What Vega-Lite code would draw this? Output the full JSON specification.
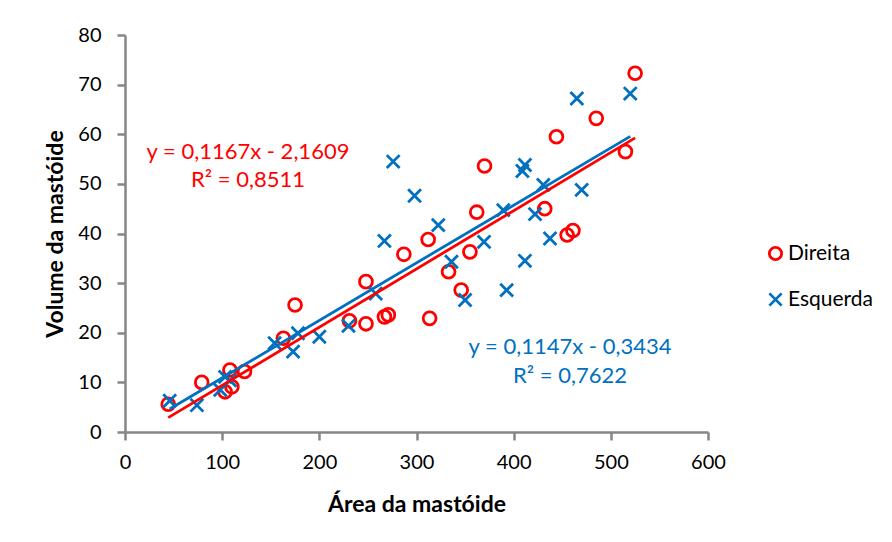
{
  "$schema": "https://vega.github.io/schema/vega-lite/v6.json",
  "autosize": "none",
  "width": 583,
  "height": 397,
  "padding": {"left": 125, "top": 35, "right": 184, "bottom": 110},
  "background": "white",
  "config": {
    "view": {"stroke": null},
    "font": "Lato",
    "axis": {
      "domainColor": "#868686",
      "domainWidth": 2.5,
      "tickColor": "#868686",
      "tickWidth": 2.5,
      "tickSize": 8,
      "grid": false,
      "labelFlush": false,
      "labelColor": "black",
      "labelFontSize": 20,
      "labelFont": "Lato",
      "titleFont": "Lato",
      "titleFontSize": 23,
      "titleFontWeight": "bold",
      "titleColor": "black"
    }
  },
  "datasets": {
    "pts": [
      {"lado": "Direita", "area": 44.5, "volume": 5.6},
      {"lado": "Direita", "area": 79, "volume": 10},
      {"lado": "Direita", "area": 103, "volume": 8.1},
      {"lado": "Direita", "area": 108, "volume": 12.5},
      {"lado": "Direita", "area": 110, "volume": 9.1},
      {"lado": "Direita", "area": 123, "volume": 12.2},
      {"lado": "Direita", "area": 163, "volume": 18.9},
      {"lado": "Direita", "area": 175, "volume": 25.6},
      {"lado": "Direita", "area": 231, "volume": 22.4},
      {"lado": "Direita", "area": 248, "volume": 30.3},
      {"lado": "Direita", "area": 248, "volume": 21.8},
      {"lado": "Direita", "area": 267, "volume": 23.2},
      {"lado": "Direita", "area": 271, "volume": 23.6},
      {"lado": "Direita", "area": 287, "volume": 35.8},
      {"lado": "Direita", "area": 312, "volume": 38.8},
      {"lado": "Direita", "area": 313.5, "volume": 22.9},
      {"lado": "Direita", "area": 333, "volume": 32.3},
      {"lado": "Direita", "area": 346, "volume": 28.6},
      {"lado": "Direita", "area": 355, "volume": 36.3},
      {"lado": "Direita", "area": 362, "volume": 44.3},
      {"lado": "Direita", "area": 370, "volume": 53.6},
      {"lado": "Direita", "area": 432, "volume": 45},
      {"lado": "Direita", "area": 444, "volume": 59.5},
      {"lado": "Direita", "area": 455, "volume": 39.7},
      {"lado": "Direita", "area": 461, "volume": 40.6},
      {"lado": "Direita", "area": 485, "volume": 63.2},
      {"lado": "Direita", "area": 515, "volume": 56.5},
      {"lado": "Direita", "area": 525, "volume": 72.3},
      {"lado": "Esquerda", "area": 46, "volume": 6.3},
      {"lado": "Esquerda", "area": 74, "volume": 5.4},
      {"lado": "Esquerda", "area": 98, "volume": 8.5},
      {"lado": "Esquerda", "area": 103, "volume": 11.1},
      {"lado": "Esquerda", "area": 108, "volume": 10.4},
      {"lado": "Esquerda", "area": 154, "volume": 17.9},
      {"lado": "Esquerda", "area": 173, "volume": 16.2},
      {"lado": "Esquerda", "area": 178, "volume": 19.9},
      {"lado": "Esquerda", "area": 200, "volume": 19.2},
      {"lado": "Esquerda", "area": 230, "volume": 21.4},
      {"lado": "Esquerda", "area": 258, "volume": 27.9},
      {"lado": "Esquerda", "area": 267, "volume": 38.5},
      {"lado": "Esquerda", "area": 276, "volume": 54.5},
      {"lado": "Esquerda", "area": 298, "volume": 47.6},
      {"lado": "Esquerda", "area": 322.4, "volume": 41.7},
      {"lado": "Esquerda", "area": 336, "volume": 34.3},
      {"lado": "Esquerda", "area": 350, "volume": 26.6},
      {"lado": "Esquerda", "area": 369.5, "volume": 38.3},
      {"lado": "Esquerda", "area": 389.3, "volume": 44.7},
      {"lado": "Esquerda", "area": 392.8, "volume": 28.6},
      {"lado": "Esquerda", "area": 409, "volume": 52.6},
      {"lado": "Esquerda", "area": 411.6, "volume": 53.8},
      {"lado": "Esquerda", "area": 411.6, "volume": 34.5},
      {"lado": "Esquerda", "area": 422, "volume": 43.9},
      {"lado": "Esquerda", "area": 430.5, "volume": 49.8},
      {"lado": "Esquerda", "area": 437.4, "volume": 39},
      {"lado": "Esquerda", "area": 465, "volume": 67.2},
      {"lado": "Esquerda", "area": 470, "volume": 48.8},
      {"lado": "Esquerda", "area": 520, "volume": 68.2}
    ],
    "one": [{"k": 1}]
  },
  "layer": [
    {
      "data": {"name": "pts"},
      "mark": {"type": "point", "filled": false, "strokeWidth": 2.8, "opacity": 1, "size": 165},
      "encoding": {
        "x": {
          "field": "area", "type": "quantitative",
          "scale": {"domain": [0, 600], "nice": false},
          "axis": {"values": [0, 100, 200, 300, 400, 500, 600], "title": "Área da mastóide", "titlePadding": 21, "labelPadding": 12}
        },
        "y": {
          "field": "volume", "type": "quantitative",
          "scale": {"domain": [0, 80], "nice": false},
          "axis": {"values": [0, 10, 20, 30, 40, 50, 60, 70, 80], "title": "Volume da mastóide", "titlePadding": 10, "labelPadding": 16}
        },
        "color": {
          "field": "lado", "type": "nominal",
          "scale": {"domain": ["Direita", "Esquerda"], "range": ["#FF0000", "#0070C0"]},
          "legend": {
            "title": null, "orient": "none", "legendX": 640, "legendY": 208,
            "labelFontSize": 21, "labelFont": "Lato", "labelColor": "black",
            "symbolSize": 150, "symbolStrokeWidth": 2.8, "rowPadding": 21, "labelOffset": 2
          }
        },
        "shape": {
          "field": "lado", "type": "nominal",
          "scale": {"domain": ["Direita", "Esquerda"], "range": ["circle", "M-1,-1L1,1M1,-1L-1,1"]},
          "legend": {
            "title": null, "orient": "none", "legendX": 640, "legendY": 208,
            "labelFontSize": 21, "labelFont": "Lato", "labelColor": "black",
            "symbolSize": 150, "symbolStrokeWidth": 2.8, "rowPadding": 21, "labelOffset": 2
          }
        }
      }
    },
    {
      "data": {"name": "pts"},
      "transform": [{"regression": "volume", "on": "area", "groupby": ["lado"]}],
      "mark": {"type": "line", "strokeWidth": 2.8},
      "encoding": {
        "x": {"field": "area", "type": "quantitative"},
        "y": {"field": "volume", "type": "quantitative"},
        "color": {"field": "lado", "type": "nominal", "legend": null},
        "order": {"field": "lado", "sort": "descending"}
      }
    },
    {
      "data": {"name": "one"},
      "mark": {"type": "text", "color": "#FF0000", "fontSize": 22, "align": "center", "baseline": "middle", "font": "Lato"},
      "encoding": {
        "x": {"datum": 126.6, "type": "quantitative"},
        "y": {"datum": 56.4, "type": "quantitative"},
        "text": {"value": "y = 0,1167x - 2,1609"}
      }
    },
    {
      "data": {"name": "one"},
      "mark": {"type": "text", "color": "#FF0000", "fontSize": 22, "align": "center", "baseline": "middle", "font": "Lato"},
      "encoding": {
        "x": {"datum": 126.6, "type": "quantitative"},
        "y": {"datum": 50.8, "type": "quantitative"},
        "text": {"value": "R² = 0,8511"}
      }
    },
    {
      "data": {"name": "one"},
      "mark": {"type": "text", "color": "#0070C0", "fontSize": 22, "align": "center", "baseline": "middle", "font": "Lato"},
      "encoding": {
        "x": {"datum": 458, "type": "quantitative"},
        "y": {"datum": 17.1, "type": "quantitative"},
        "text": {"value": "y = 0,1147x - 0,3434"}
      }
    },
    {
      "data": {"name": "one"},
      "mark": {"type": "text", "color": "#0070C0", "fontSize": 22, "align": "center", "baseline": "middle", "font": "Lato"},
      "encoding": {
        "x": {"datum": 458, "type": "quantitative"},
        "y": {"datum": 11.3, "type": "quantitative"},
        "text": {"value": "R² = 0,7622"}
      }
    }
  ]
}
